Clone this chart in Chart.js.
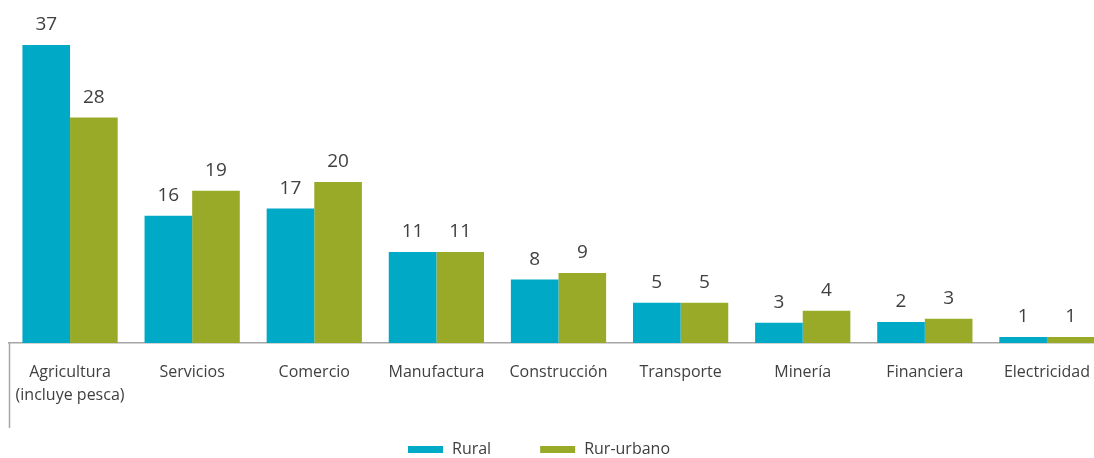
<!DOCTYPE html>
<html>
<head>
<meta charset="utf-8">
<script src="https://cdn.jsdelivr.net/npm/chart.js@4/dist/chart.umd.min.js"></script>
<style>
  html, body { margin: 0; padding: 0; background: #ffffff; overflow: hidden; width: 1094px; height: 458px; }
  #wrap { position: absolute; left: 0; top: 0; width: 1108px; height: 458px; }
</style>
</head>
<body>
<div id="wrap"><canvas id="c"></canvas></div>
<script>
const categories = [['Agricultura', '(incluye pesca)'], 'Servicios', 'Comercio', 'Manufactura', 'Construcción', 'Transporte', 'Minería', 'Financiera', 'Electricidad'];
const seriesNames = ['Rural', 'Rur-urbano'];
const rural = [37, 15.8, 16.7, 11.3, 7.9, 5, 2.5, 2.6, 0.75];
const rurUrbano = [28, 18.9, 20, 11.3, 8.7, 5, 4, 3, 0.75];
const ruralLabels = ['37', '16', '17', '11', '8', '5', '3', '2', '1'];
const rurUrbanoLabels = ['28', '19', '20', '11', '9', '5', '4', '3', '1'];

const TEXT = '#404040';
const AXIS = '#a6a6a6';
const FONT = "'Open Sans', 'Noto Sans', sans-serif";

const valueLabels = {
  id: 'valueLabels',
  afterDatasetsDraw(chart) {
    const ctx = chart.ctx;
    const sets = [ruralLabels, rurUrbanoLabels];
    ctx.save();
    ctx.font = '19px ' + FONT;
    ctx.fillStyle = TEXT;
    ctx.textAlign = 'center';
    ctx.textBaseline = 'middle';
    chart.data.datasets.forEach((ds, di) => {
      const meta = chart.getDatasetMeta(di);
      meta.data.forEach((bar, i) => {
        ctx.fillText(sets[di][i], bar.x, bar.y - 20);
      });
    });
    ctx.restore();
  }
};

const leftLine = {
  id: 'leftLine',
  afterDraw(chart) {
    const a = chart.chartArea;
    const ctx = chart.ctx;
    ctx.save();
    ctx.strokeStyle = AXIS;
    ctx.lineWidth = 1.5;
    ctx.beginPath();
    ctx.moveTo(a.left + 0.5, a.bottom);
    ctx.lineTo(a.left + 0.5, a.bottom + 85);
    ctx.stroke();
    ctx.restore();
  }
};

// legend drawn from the datasets (names and colours)
const bottomLegend = {
  id: 'bottomLegend',
  afterDraw(chart) {
    const ctx = chart.ctx;
    const centerX = 539, boxY = 446, boxW = 35, boxH = 7, textGap = 9, itemGap = 49, textY = 449.5;
    ctx.save();
    ctx.font = '16px ' + FONT;
    const items = chart.data.datasets.map(ds => ({
      text: ds.label, color: ds.backgroundColor, w: boxW + textGap + ctx.measureText(ds.label).width
    }));
    const total = items.reduce((s, it) => s + it.w, 0) + itemGap * (items.length - 1);
    let x = centerX - total / 2;
    ctx.textAlign = 'left';
    ctx.textBaseline = 'middle';
    items.forEach(it => {
      ctx.fillStyle = it.color;
      ctx.fillRect(x, boxY, boxW, boxH);
      ctx.fillStyle = TEXT;
      ctx.fillText(it.text, x + boxW + textGap, textY);
      x += it.w + itemGap;
    });
    ctx.restore();
  }
};

new Chart(document.getElementById('c'), {
  type: 'bar',
  data: {
    labels: categories,
    datasets: [
      { label: seriesNames[0], data: rural, backgroundColor: '#00a9c6', borderWidth: 0 },
      { label: seriesNames[1], data: rurUrbano, backgroundColor: '#98aa27', borderWidth: 0 }
    ]
  },
  options: {
    responsive: true,
    maintainAspectRatio: false,
    animation: false,
    devicePixelRatio: 1,
    layout: { padding: { top: 0, left: 9, right: 0, bottom: 0 } },
    datasets: { bar: { barPercentage: 1.0, categoryPercentage: 0.78 } },
    plugins: {
      legend: { display: false },
      tooltip: { enabled: false }
    },
    scales: {
      x: {
        offset: true,
        grid: { display: false },
        border: { display: true, color: AXIS, width: 1.5 },
        ticks: {
          color: TEXT,
          padding: 10,
          maxRotation: 0,
          autoSkip: false,
          font: { family: FONT, size: 16, lineHeight: 1.44 }
        },
        afterFit(s) { s.height = 115; }
      },
      y: {
        display: false,
        min: 0,
        max: 42.6
      }
    }
  },
  plugins: [valueLabels, leftLine, bottomLegend]
});
</script>
</body>
</html>
